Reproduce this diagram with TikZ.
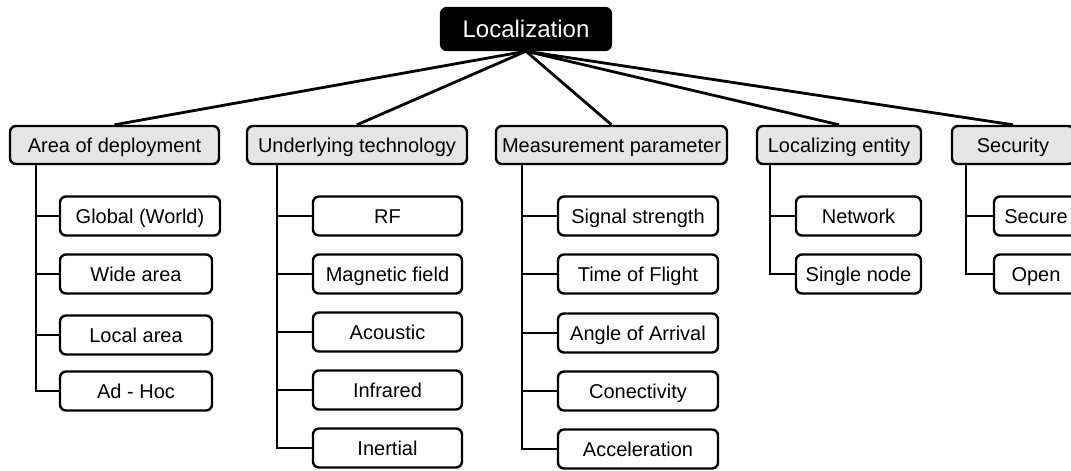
\documentclass[tikz,border=0pt]{standalone}
\usepackage{fontspec}
\setmainfont{Liberation Sans}
\tikzset{
  box/.style={draw=black, line width=2.4pt, rounded corners=6pt, inner sep=0pt,
    font=\fontsize{20}{24}\selectfont, text height=15.5pt, text depth=0pt, align=center},
  rootbox/.style={box, fill=black, text=white, minimum width=170pt, minimum height=42pt,
    font=\fontsize{24}{28}\selectfont, text height=17pt},
  catbox/.style={box, fill=gray!20, minimum height=38pt},
  leafbox/.style={box, fill=white, minimum height=39pt},
  link/.style={line width=2.8pt, draw=black},
}
\begin{document}
\begin{tikzpicture}[x=1pt,y=-1pt]
\useasboundingbox (0,0) rectangle (1071,471);
\clip (0,0) rectangle (1071,471);

% root
\node[rootbox] (root) at (526,29) {Localization};

% categories
\node[catbox, minimum width=209pt] (area) at (114.5,145) {Area of deployment};
\node[catbox, minimum width=220pt] (tech) at (357,145) {Underlying technology};
\node[catbox, minimum width=231pt] (meas) at (611.5,145) {Measurement parameter};
\node[catbox, minimum width=164pt] (ent)  at (839,145) {Localizing entity};
\node[catbox, minimum width=122pt] (sec)  at (1013,145) {Security};

% root links
\foreach \c in {area,tech,meas,ent,sec}
  \draw[link] (root.south) -- (\c.north);

% area of deployment
\node[leafbox, minimum width=160pt] (a1) at (140,216) {Global (World)};
\node[leafbox, minimum width=152pt] (a2) at (136,274) {Wide area};
\node[leafbox, minimum width=152pt] (a3) at (136,335) {Local area};
\node[leafbox, minimum width=152pt] (a4) at (136,391) {Ad - Hoc};
\coordinate (ta) at (36,165);

% underlying technology
\node[leafbox, minimum width=149pt] (t1) at (387.5,216) {RF};
\node[leafbox, minimum width=149pt] (t2) at (387.5,274) {Magnetic field};
\node[leafbox, minimum width=149pt] (t3) at (387.5,332) {Acoustic};
\node[leafbox, minimum width=149pt] (t4) at (387.5,390) {Infrared};
\node[leafbox, minimum width=149pt] (t5) at (387.5,448) {Inertial};
\coordinate (tt) at (277,165);

% measurement parameter
\node[leafbox, minimum width=160pt] (m1) at (638,216) {Signal strength};
\node[leafbox, minimum width=160pt] (m2) at (638,274) {Time of Flight};
\node[leafbox, minimum width=160pt] (m3) at (638,333) {Angle of Arrival};
\node[leafbox, minimum width=160pt] (m4) at (638,391) {Conectivity};
\node[leafbox, minimum width=160pt] (m5) at (638,449) {Acceleration};
\coordinate (tm) at (522,165);

% localizing entity
\node[leafbox, minimum width=125pt] (e1) at (858.5,216) {Network};
\node[leafbox, minimum width=125pt] (e2) at (858.5,274) {Single node};
\coordinate (te) at (770,165);

% security
\node[leafbox, minimum width=84pt] (s1) at (1036,216) {Secure};
\node[leafbox, minimum width=84pt] (s2) at (1036,274) {Open};
\coordinate (ts) at (966,165);

% trunks
\foreach \n in {a1,a2,a3,a4} \draw[link] (ta) |- (\n.west);
\foreach \n in {t1,t2,t3,t4,t5} \draw[link] (tt) |- (\n.west);
\foreach \n in {m1,m2,m3,m4,m5} \draw[link] (tm) |- (\n.west);
\foreach \n in {e1,e2} \draw[link] (te) |- (\n.west);
\foreach \n in {s1,s2} \draw[link] (ts) |- (\n.west);
\end{tikzpicture}
\end{document}
